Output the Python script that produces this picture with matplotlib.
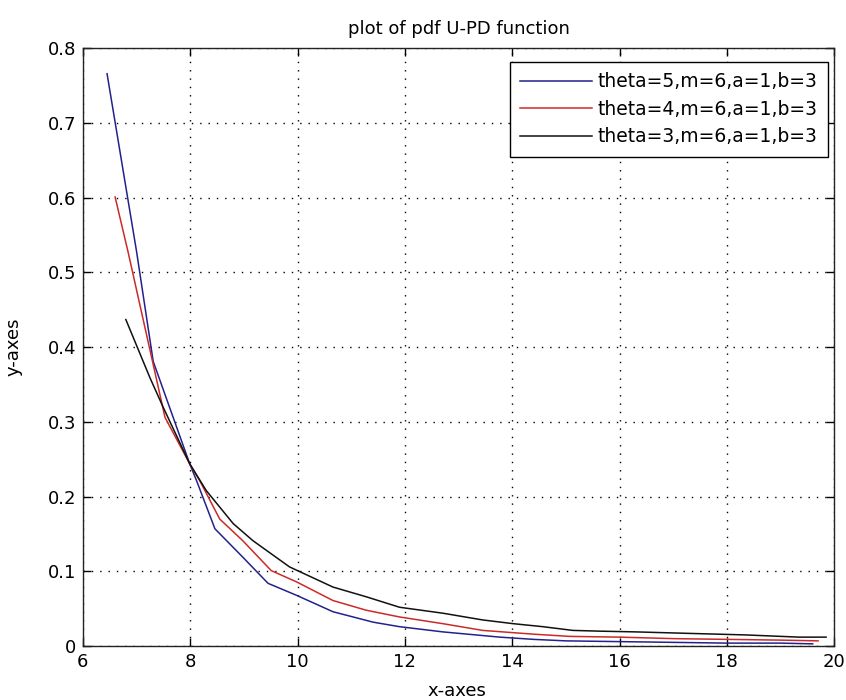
"""
Recreation of a MATLAB-style plot of the U-PD pdf for three theta values.
"""

import matplotlib
matplotlib.use("Agg")
import matplotlib.pyplot as plt


# theta=5 curve
x_theta5 = [6.45, 7.0, 7.31, 7.99, 8.12, 8.46, 8.98, 9.45, 9.98, 10.66,
            11.41, 11.9, 12.71, 13.77, 14.4, 15.0, 16.0, 17.0, 18.0, 19.0, 19.6]
y_theta5 = [0.766, 0.528, 0.381, 0.244, 0.221, 0.157, 0.119, 0.084, 0.068,
            0.046, 0.032, 0.026, 0.019, 0.012, 0.009, 0.007, 0.006, 0.005,
            0.004, 0.004, 0.003]

# theta=4 curve
x_theta4 = [6.6, 6.84, 7.53, 7.99, 8.18, 8.55, 8.98, 9.51, 9.98, 10.66,
            11.28, 11.9, 12.71, 13.45, 14.39, 15.07, 16.0, 17.0, 18.0, 19.0, 19.7]
y_theta4 = [0.601, 0.528, 0.306, 0.244, 0.221, 0.170, 0.141, 0.101, 0.086,
            0.061, 0.048, 0.039, 0.030, 0.021, 0.016, 0.013, 0.012, 0.010,
            0.009, 0.008, 0.007]

# theta=3 curve
x_theta3 = [6.8, 7.25, 7.5, 7.99, 8.3, 8.8, 9.17, 9.85, 10.66, 11.28, 11.9,
            12.71, 13.45, 14.02, 14.57, 15.13, 15.63, 16.31, 17.3, 18.33,
            19.35, 19.85]
y_theta3 = [0.437, 0.359, 0.319, 0.244, 0.208, 0.164, 0.141, 0.106, 0.079,
            0.066, 0.052, 0.044, 0.035, 0.030, 0.026, 0.021, 0.020, 0.019,
            0.017, 0.015, 0.012, 0.012]

labels = ["theta=5,m=6,a=1,b=3", "theta=4,m=6,a=1,b=3", "theta=3,m=6,a=1,b=3"]
colors = ["#22228c", "#cc2a2a", "#111111"]

x_ticks = [6, 8, 10, 12, 14, 16, 18, 20]
y_ticks = [0, 0.1, 0.2, 0.3, 0.4, 0.5, 0.6, 0.7, 0.8]


plt.rcParams["font.family"] = ["DejaVu Sans"]

fig = plt.figure(figsize=(8.46, 7.0), dpi=100)
ax = fig.add_axes([0.098, 0.077, 0.888, 0.854])

for xs, ys, c, lab in zip([x_theta5, x_theta4, x_theta3],
                          [y_theta5, y_theta4, y_theta3], colors, labels):
    ax.plot(xs, ys, color=c, linewidth=1.1, label=lab)

ax.set_xlim(6, 20)
ax.set_ylim(0, 0.8)
ax.set_xticks(x_ticks)
ax.set_yticks(y_ticks)
ax.set_xticklabels([str(t) for t in x_ticks])
ax.set_yticklabels(["0"] + ["%.1f" % t for t in y_ticks[1:]])

# matlab style ticks and dotted grid
ax.tick_params(direction="in", top=True, right=True, length=6, width=1,
               labelsize=13, colors="black", pad=5)
ax.grid(True, color="black", linestyle=(0, (1, 5)), linewidth=1.0)
for sp in ax.spines.values():
    sp.set_linewidth(1.0)
    sp.set_color("#222222")

ax.set_title("plot of pdf U-PD function", fontsize=13, pad=10)
ax.set_xlabel("x-axes", fontsize=13)
ax.set_ylabel("y-axes", fontsize=13)
ax.xaxis.set_label_coords(0.498, -0.060)
ax.yaxis.set_label_coords(-0.080, 0.5)

leg = ax.legend(loc="upper right", bbox_to_anchor=(0.992, 0.977),
                borderaxespad=0, fontsize=13.5, handlelength=3.85,
                handletextpad=0.3, borderpad=0.55, labelspacing=0.45,
                fancybox=False, framealpha=1)
leg.get_frame().set_edgecolor("black")
leg.get_frame().set_linewidth(1.0)

fig.savefig("out.png", dpi=100)
